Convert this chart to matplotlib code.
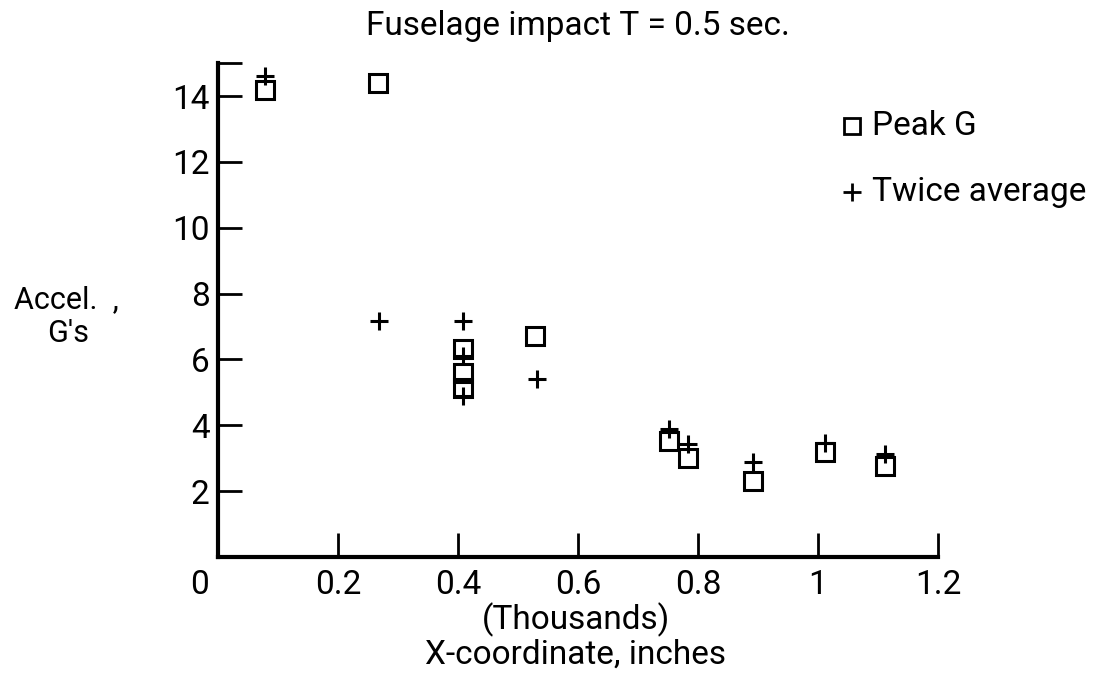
import matplotlib
matplotlib.use("Agg")
import matplotlib.pyplot as plt
from matplotlib.transforms import ScaledTranslation

plt.rcParams['font.family'] = ['Roboto', 'DejaVu Sans']

# Peak G (squares), x in thousands of inches
peak_x = [0.078, 0.267, 0.408, 0.408, 0.408, 0.528, 0.752, 0.783, 0.892, 1.012, 1.112]
peak_y = [14.2, 14.4, 6.33, 5.6, 5.12, 6.7, 3.52, 3.0, 2.3, 3.2, 2.75]

# Twice average (plus signs)
avg_x = [0.078, 0.268, 0.408, 0.408, 0.408, 0.532, 0.752, 0.783, 0.892, 1.012, 1.112]
avg_y = [14.6, 7.17, 7.17, 6.1, 4.9, 5.4, 3.9, 3.43, 2.87, 3.47, 3.12]

xticks = [0, 0.2, 0.4, 0.6, 0.8, 1.0, 1.2]
xtick_labels = ['0', '0.2', '0.4', '0.6', '0.8', '1', '1.2']
yticks = [2, 4, 6, 8, 10, 12, 14, 15]
ytick_labels = ['2', '4', '6', '8', '10', '12', '14', '']

fs = 24

fig = plt.figure(figsize=(10.97, 6.8), dpi=100)
ax = fig.add_axes([0.1987, 0.181, 0.6563, 0.726])

ax.plot(peak_x, peak_y, linestyle='none', marker='s', markersize=13,
        markerfacecolor='none', markeredgecolor='black', markeredgewidth=2.2)
ax.plot(avg_x, avg_y, linestyle='none', marker='+', markersize=13,
        color='black', markeredgewidth=2.2)

ax.set_xlim(0, 1.2)
ax.set_ylim(0, 15)
ax.set_xticks(xticks)
ax.set_xticklabels(xtick_labels)
ax.set_yticks(yticks)
ax.set_yticklabels(ytick_labels)

for s in ['top', 'right']:
    ax.spines[s].set_visible(False)
for s in ['left', 'bottom']:
    ax.spines[s].set_linewidth(3)

ax.tick_params(direction='in', length=17, width=2, labelsize=fs)
ax.tick_params(axis='x', pad=9)
ax.tick_params(axis='y', pad=6)

# the "0" label sits a bit left of the origin in the original
lbl0 = ax.get_xticklabels()[0]
lbl0.set_transform(lbl0.get_transform() + ScaledTranslation(-0.18, 0, fig.dpi_scale_trans))

ax.set_title('Fuselage impact T = 0.5 sec.', fontsize=fs, pad=20)

fig.text(0.013, 0.559, 'Accel.  ,', fontsize=22, va='center', ha='left')
fig.text(0.043, 0.509, "G's", fontsize=22, va='center', ha='left')
fig.text(0.525, 0.088, '(Thousands)', fontsize=fs, ha='center', va='center')
fig.text(0.525, 0.037, 'X-coordinate, inches', fontsize=fs, ha='center', va='center')

# legend
ax.plot([1.057], [13.1], linestyle='none', marker='s', markersize=11,
        markerfacecolor='none', markeredgecolor='black', markeredgewidth=2,
        clip_on=False)
ax.text(1.09, 13.1, 'Peak G', fontsize=fs, va='center', ha='left')
ax.plot([1.057], [11.1], linestyle='none', marker='+', markersize=13,
        color='black', markeredgewidth=2, clip_on=False)
ax.text(1.09, 11.1, 'Twice average', fontsize=fs, va='center', ha='left')

fig.savefig('out.png', dpi=100)
